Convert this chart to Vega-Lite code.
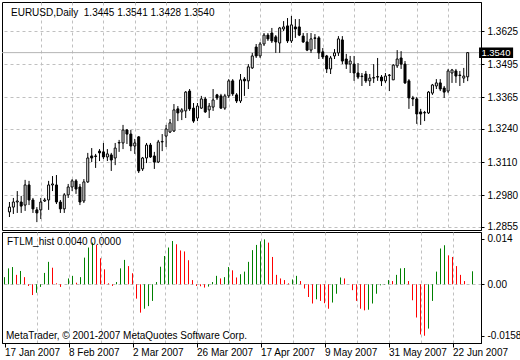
{
  "$schema": "https://vega.github.io/schema/vega-lite/v6.json",
  "background": "white",
  "padding": {"left": 1, "top": 1, "right": 0, "bottom": 0},
  "spacing": 2,
  "bounds": "flush",
  "config": {
    "view": {"stroke": "#000000", "strokeWidth": 1},
    "axis": {"labelFont": "Liberation Sans", "labelFontSize": 10, "labelColor": "#000000", "domainColor": "#000000", "tickColor": "#000000", "gridColor": "#c0c0c0", "gridDash": [3, 3], "gridWidth": 1, "domainWidth": 1, "tickWidth": 1, "labelOverlap": false, "tickCount": 40},
    "text": {"font": "Liberation Sans", "fontSize": 10, "color": "#000000"}
  },
  "datasets": {
    "bars": [
{"i":0,"d":"2007-01-17","o":1.2914,"h":1.2953,"l":1.2894,"c":1.2933,"v":0.0022,"t":"up"},
{"i":1,"d":"2007-01-18","o":1.2933,"h":1.2969,"l":1.2906,"c":1.2953,"v":0.0049,"t":"up"},
{"i":2,"d":"2007-01-19","o":1.2953,"h":1.2996,"l":1.2910,"c":1.2957,"v":0.0053,"t":"up"},
{"i":3,"d":"2007-01-22","o":1.2953,"h":1.2977,"l":1.2910,"c":1.2937,"v":0.0029,"t":"down"},
{"i":4,"d":"2007-01-23","o":1.2941,"h":1.3040,"l":1.2918,"c":1.3020,"v":0.0041,"t":"up"},
{"i":5,"d":"2007-01-24","o":1.3020,"h":1.3036,"l":1.2941,"c":1.2961,"v":0.0022,"t":"down"},
{"i":6,"d":"2007-01-25","o":1.2961,"h":1.2969,"l":1.2910,"c":1.2926,"v":-0.0005,"t":"down"},
{"i":7,"d":"2007-01-26","o":1.2922,"h":1.2933,"l":1.2874,"c":1.2910,"v":-0.0033,"t":"down"},
{"i":8,"d":"2007-01-29","o":1.2922,"h":1.2969,"l":1.2886,"c":1.2953,"v":-0.0026,"t":"up"},
{"i":9,"d":"2007-01-30","o":1.2957,"h":1.2969,"l":1.2953,"c":1.2961,"v":-0.0008,"t":"up"},
{"i":10,"d":"2007-01-31","o":1.2961,"h":1.3036,"l":1.2922,"c":1.3020,"v":0.0035,"t":"up"},
{"i":11,"d":"2007-02-01","o":1.3020,"h":1.3055,"l":1.2996,"c":1.3024,"v":0.0069,"t":"up"},
{"i":12,"d":"2007-02-02","o":1.3020,"h":1.3059,"l":1.2945,"c":1.2953,"v":0.0051,"t":"down"},
{"i":13,"d":"2007-02-05","o":1.2953,"h":1.2961,"l":1.2910,"c":1.2926,"v":0.0003,"t":"down"},
{"i":14,"d":"2007-02-06","o":1.2926,"h":1.2988,"l":1.2910,"c":1.2981,"v":-0.0008,"t":"down"},
{"i":15,"d":"2007-02-07","o":1.2981,"h":1.3024,"l":1.2969,"c":1.3012,"v":0.0000,"t":"up"},
{"i":16,"d":"2007-02-08","o":1.3012,"h":1.3043,"l":1.2996,"c":1.3036,"v":0.0018,"t":"up"},
{"i":17,"d":"2007-02-09","o":1.3036,"h":1.3043,"l":1.2985,"c":1.3004,"v":0.0026,"t":"up"},
{"i":18,"d":"2007-02-12","o":1.3012,"h":1.3024,"l":1.2941,"c":1.2953,"v":0.0005,"t":"down"},
{"i":19,"d":"2007-02-13","o":1.2957,"h":1.3043,"l":1.2949,"c":1.3032,"v":0.0022,"t":"up"},
{"i":20,"d":"2007-02-14","o":1.3032,"h":1.3146,"l":1.3028,"c":1.3126,"v":0.0082,"t":"up"},
{"i":21,"d":"2007-02-15","o":1.3134,"h":1.3165,"l":1.3110,"c":1.3126,"v":0.0113,"t":"up"},
{"i":22,"d":"2007-02-16","o":1.3134,"h":1.3142,"l":1.3087,"c":1.3132,"v":0.0128,"t":"up"},
{"i":23,"d":"2007-02-19","o":1.3153,"h":1.3161,"l":1.3114,"c":1.3146,"v":0.0121,"t":"down"},
{"i":24,"d":"2007-02-20","o":1.3150,"h":1.3185,"l":1.3122,"c":1.3130,"v":0.0080,"t":"down"},
{"i":25,"d":"2007-02-21","o":1.3130,"h":1.3161,"l":1.3114,"c":1.3142,"v":0.0046,"t":"down"},
{"i":26,"d":"2007-02-22","o":1.3138,"h":1.3146,"l":1.3075,"c":1.3118,"v":0.0003,"t":"down"},
{"i":27,"d":"2007-02-23","o":1.3126,"h":1.3185,"l":1.3098,"c":1.3165,"v":-0.0005,"t":"down"},
{"i":28,"d":"2007-02-26","o":1.3185,"h":1.3197,"l":1.3150,"c":1.3187,"v":0.0007,"t":"up"},
{"i":29,"d":"2007-02-27","o":1.3185,"h":1.3256,"l":1.3161,"c":1.3236,"v":0.0049,"t":"up"},
{"i":30,"d":"2007-02-28","o":1.3236,"h":1.3240,"l":1.3181,"c":1.3220,"v":0.0075,"t":"up"},
{"i":31,"d":"2007-03-01","o":1.3220,"h":1.3236,"l":1.3153,"c":1.3173,"v":0.0056,"t":"down"},
{"i":32,"d":"2007-03-02","o":1.3173,"h":1.3201,"l":1.3142,"c":1.3185,"v":0.0034,"t":"down"},
{"i":33,"d":"2007-03-05","o":1.3209,"h":1.3212,"l":1.3067,"c":1.3075,"v":-0.0044,"t":"down"},
{"i":34,"d":"2007-03-06","o":1.3083,"h":1.3130,"l":1.3075,"c":1.3126,"v":-0.0087,"t":"down"},
{"i":35,"d":"2007-03-07","o":1.3126,"h":1.3185,"l":1.3106,"c":1.3177,"v":-0.0075,"t":"up"},
{"i":36,"d":"2007-03-08","o":1.3177,"h":1.3185,"l":1.3126,"c":1.3130,"v":-0.0067,"t":"up"},
{"i":37,"d":"2007-03-09","o":1.3134,"h":1.3150,"l":1.3083,"c":1.3110,"v":-0.0051,"t":"up"},
{"i":38,"d":"2007-03-12","o":1.3110,"h":1.3197,"l":1.3106,"c":1.3189,"v":0.0007,"t":"up"},
{"i":39,"d":"2007-03-13","o":1.3189,"h":1.3220,"l":1.3153,"c":1.3191,"v":0.0054,"t":"up"},
{"i":40,"d":"2007-03-14","o":1.3212,"h":1.3256,"l":1.3169,"c":1.3240,"v":0.0087,"t":"up"},
{"i":41,"d":"2007-03-15","o":1.3228,"h":1.3279,"l":1.3224,"c":1.3264,"v":0.0113,"t":"up"},
{"i":42,"d":"2007-03-16","o":1.3232,"h":1.3338,"l":1.3228,"c":1.3315,"v":0.0133,"t":"up"},
{"i":43,"d":"2007-03-19","o":1.3319,"h":1.3330,"l":1.3271,"c":1.3303,"v":0.0123,"t":"down"},
{"i":44,"d":"2007-03-20","o":1.3307,"h":1.3322,"l":1.3275,"c":1.3315,"v":0.0104,"t":"down"},
{"i":45,"d":"2007-03-21","o":1.3311,"h":1.3389,"l":1.3283,"c":1.3385,"v":0.0101,"t":"down"},
{"i":46,"d":"2007-03-22","o":1.3389,"h":1.3397,"l":1.3311,"c":1.3319,"v":0.0074,"t":"down"},
{"i":47,"d":"2007-03-23","o":1.3322,"h":1.3342,"l":1.3264,"c":1.3271,"v":0.0013,"t":"down"},
{"i":48,"d":"2007-03-26","o":1.3283,"h":1.3342,"l":1.3271,"c":1.3330,"v":-0.0005,"t":"down"},
{"i":49,"d":"2007-03-27","o":1.3322,"h":1.3370,"l":1.3319,"c":1.3358,"v":-0.0006,"t":"down"},
{"i":50,"d":"2007-03-28","o":1.3358,"h":1.3366,"l":1.3303,"c":1.3307,"v":-0.0010,"t":"down"},
{"i":51,"d":"2007-03-29","o":1.3315,"h":1.3342,"l":1.3283,"c":1.3330,"v":-0.0007,"t":"up"},
{"i":52,"d":"2007-03-30","o":1.3326,"h":1.3397,"l":1.3311,"c":1.3354,"v":0.0007,"t":"up"},
{"i":53,"d":"2007-04-02","o":1.3374,"h":1.3378,"l":1.3354,"c":1.3362,"v":0.0026,"t":"up"},
{"i":54,"d":"2007-04-03","o":1.3370,"h":1.3378,"l":1.3319,"c":1.3322,"v":0.0018,"t":"down"},
{"i":55,"d":"2007-04-04","o":1.3322,"h":1.3378,"l":1.3315,"c":1.3370,"v":0.0022,"t":"up"},
{"i":56,"d":"2007-04-05","o":1.3370,"h":1.3436,"l":1.3362,"c":1.3429,"v":0.0053,"t":"up"},
{"i":57,"d":"2007-04-06","o":1.3429,"h":1.3436,"l":1.3370,"c":1.3378,"v":0.0043,"t":"down"},
{"i":58,"d":"2007-04-09","o":1.3374,"h":1.3381,"l":1.3342,"c":1.3350,"v":0.0021,"t":"down"},
{"i":59,"d":"2007-04-10","o":1.3350,"h":1.3456,"l":1.3342,"c":1.3433,"v":0.0031,"t":"up"},
{"i":60,"d":"2007-04-11","o":1.3436,"h":1.3444,"l":1.3370,"c":1.3429,"v":0.0039,"t":"up"},
{"i":61,"d":"2007-04-12","o":1.3429,"h":1.3495,"l":1.3397,"c":1.3484,"v":0.0069,"t":"up"},
{"i":62,"d":"2007-04-13","o":1.3480,"h":1.3539,"l":1.3476,"c":1.3527,"v":0.0105,"t":"up"},
{"i":63,"d":"2007-04-16","o":1.3562,"h":1.3574,"l":1.3519,"c":1.3527,"v":0.0121,"t":"up"},
{"i":64,"d":"2007-04-17","o":1.3527,"h":1.3582,"l":1.3519,"c":1.3574,"v":0.0132,"t":"up"},
{"i":65,"d":"2007-04-18","o":1.3574,"h":1.3617,"l":1.3566,"c":1.3609,"v":0.0138,"t":"up"},
{"i":66,"d":"2007-04-19","o":1.3609,"h":1.3617,"l":1.3586,"c":1.3594,"v":0.0128,"t":"down"},
{"i":67,"d":"2007-04-20","o":1.3617,"h":1.3637,"l":1.3578,"c":1.3586,"v":0.0084,"t":"down"},
{"i":68,"d":"2007-04-23","o":1.3602,"h":1.3609,"l":1.3539,"c":1.3582,"v":0.0029,"t":"down"},
{"i":69,"d":"2007-04-24","o":1.3578,"h":1.3641,"l":1.3539,"c":1.3637,"v":0.0018,"t":"down"},
{"i":70,"d":"2007-04-25","o":1.3633,"h":1.3664,"l":1.3625,"c":1.3641,"v":0.0013,"t":"down"},
{"i":71,"d":"2007-04-26","o":1.3645,"h":1.3676,"l":1.3578,"c":1.3586,"v":0.0003,"t":"down"},
{"i":72,"d":"2007-04-27","o":1.3586,"h":1.3684,"l":1.3578,"c":1.3649,"v":0.0015,"t":"up"},
{"i":73,"d":"2007-04-30","o":1.3641,"h":1.3672,"l":1.3598,"c":1.3633,"v":0.0026,"t":"up"},
{"i":74,"d":"2007-05-01","o":1.3641,"h":1.3672,"l":1.3605,"c":1.3609,"v":0.0010,"t":"down"},
{"i":75,"d":"2007-05-02","o":1.3605,"h":1.3617,"l":1.3578,"c":1.3582,"v":-0.0013,"t":"down"},
{"i":76,"d":"2007-05-03","o":1.3582,"h":1.3617,"l":1.3546,"c":1.3550,"v":-0.0039,"t":"down"},
{"i":77,"d":"2007-05-04","o":1.3550,"h":1.3617,"l":1.3539,"c":1.3594,"v":-0.0059,"t":"down"},
{"i":78,"d":"2007-05-07","o":1.3598,"h":1.3613,"l":1.3554,"c":1.3596,"v":-0.0046,"t":"up"},
{"i":79,"d":"2007-05-08","o":1.3598,"h":1.3605,"l":1.3515,"c":1.3539,"v":-0.0051,"t":"down"},
{"i":80,"d":"2007-05-09","o":1.3543,"h":1.3558,"l":1.3515,"c":1.3523,"v":-0.0058,"t":"down"},
{"i":81,"d":"2007-05-10","o":1.3527,"h":1.3531,"l":1.3460,"c":1.3476,"v":-0.0075,"t":"down"},
{"i":82,"d":"2007-05-11","o":1.3476,"h":1.3527,"l":1.3456,"c":1.3519,"v":-0.0056,"t":"up"},
{"i":83,"d":"2007-05-14","o":1.3527,"h":1.3554,"l":1.3515,"c":1.3539,"v":-0.0029,"t":"up"},
{"i":84,"d":"2007-05-15","o":1.3539,"h":1.3605,"l":1.3527,"c":1.3594,"v":0.0021,"t":"up"},
{"i":85,"d":"2007-05-16","o":1.3590,"h":1.3605,"l":1.3495,"c":1.3507,"v":0.0018,"t":"down"},
{"i":86,"d":"2007-05-17","o":1.3515,"h":1.3535,"l":1.3476,"c":1.3495,"v":0.0000,"t":"down"},
{"i":87,"d":"2007-05-18","o":1.3495,"h":1.3527,"l":1.3460,"c":1.3507,"v":-0.0018,"t":"down"},
{"i":88,"d":"2007-05-21","o":1.3495,"h":1.3527,"l":1.3429,"c":1.3460,"v":-0.0051,"t":"down"},
{"i":89,"d":"2007-05-22","o":1.3460,"h":1.3499,"l":1.3436,"c":1.3444,"v":-0.0075,"t":"down"},
{"i":90,"d":"2007-05-23","o":1.3448,"h":1.3460,"l":1.3409,"c":1.3446,"v":-0.0080,"t":"down"},
{"i":91,"d":"2007-05-24","o":1.3456,"h":1.3468,"l":1.3421,"c":1.3429,"v":-0.0078,"t":"up"},
{"i":92,"d":"2007-05-25","o":1.3429,"h":1.3456,"l":1.3409,"c":1.3440,"v":-0.0059,"t":"up"},
{"i":93,"d":"2007-05-28","o":1.3440,"h":1.3495,"l":1.3421,"c":1.3442,"v":-0.0029,"t":"up"},
{"i":94,"d":"2007-05-29","o":1.3446,"h":1.3519,"l":1.3429,"c":1.3444,"v":-0.0003,"t":"up"},
{"i":95,"d":"2007-05-30","o":1.3444,"h":1.3452,"l":1.3409,"c":1.3429,"v":-0.0001,"t":"up"},
{"i":96,"d":"2007-05-31","o":1.3429,"h":1.3460,"l":1.3421,"c":1.3448,"v":0.0013,"t":"up"},
{"i":97,"d":"2007-06-01","o":1.3450,"h":1.3456,"l":1.3389,"c":1.3452,"v":0.0010,"t":"down"},
{"i":98,"d":"2007-06-04","o":1.3433,"h":1.3495,"l":1.3433,"c":1.3491,"v":0.0029,"t":"up"},
{"i":99,"d":"2007-06-05","o":1.3488,"h":1.3550,"l":1.3480,"c":1.3515,"v":0.0049,"t":"up"},
{"i":100,"d":"2007-06-06","o":1.3519,"h":1.3546,"l":1.3476,"c":1.3495,"v":0.0050,"t":"up"},
{"i":101,"d":"2007-06-07","o":1.3495,"h":1.3507,"l":1.3417,"c":1.3421,"v":0.0010,"t":"down"},
{"i":102,"d":"2007-06-08","o":1.3429,"h":1.3436,"l":1.3319,"c":1.3362,"v":-0.0049,"t":"down"},
{"i":103,"d":"2007-06-11","o":1.3362,"h":1.3370,"l":1.3330,"c":1.3358,"v":-0.0102,"t":"down"},
{"i":104,"d":"2007-06-12","o":1.3358,"h":1.3366,"l":1.3260,"c":1.3299,"v":-0.0154,"t":"down"},
{"i":105,"d":"2007-06-13","o":1.3307,"h":1.3319,"l":1.3256,"c":1.3299,"v":-0.0158,"t":"down"},
{"i":106,"d":"2007-06-14","o":1.3303,"h":1.3311,"l":1.3271,"c":1.3305,"v":-0.0136,"t":"up"},
{"i":107,"d":"2007-06-15","o":1.3303,"h":1.3389,"l":1.3299,"c":1.3385,"v":-0.0051,"t":"up"},
{"i":108,"d":"2007-06-18","o":1.3381,"h":1.3417,"l":1.3374,"c":1.3413,"v":0.0039,"t":"up"},
{"i":109,"d":"2007-06-19","o":1.3409,"h":1.3436,"l":1.3397,"c":1.3421,"v":0.0110,"t":"up"},
{"i":110,"d":"2007-06-20","o":1.3421,"h":1.3436,"l":1.3389,"c":1.3397,"v":0.0120,"t":"up"},
{"i":111,"d":"2007-06-21","o":1.3401,"h":1.3409,"l":1.3362,"c":1.3385,"v":0.0089,"t":"down"},
{"i":112,"d":"2007-06-22","o":1.3389,"h":1.3476,"l":1.3381,"c":1.3468,"v":0.0084,"t":"down"},
{"i":113,"d":"2007-06-25","o":1.3460,"h":1.3476,"l":1.3421,"c":1.3472,"v":0.0056,"t":"down"},
{"i":114,"d":"2007-06-26","o":1.3468,"h":1.3476,"l":1.3421,"c":1.3448,"v":0.0029,"t":"down"},
{"i":115,"d":"2007-06-27","o":1.3452,"h":1.3468,"l":1.3409,"c":1.3450,"v":0.0010,"t":"down"},
{"i":116,"d":"2007-06-28","o":1.3440,"h":1.3480,"l":1.3421,"c":1.3448,"v":0.0000,"t":"down"},
{"i":117,"d":"2007-06-29","o":1.3445,"h":1.3541,"l":1.3428,"c":1.3540,"v":0.0040,"t":"up"}
    ]
  },
  "vconcat": [
    {
      "width": 479,
      "height": 228,
      "data": {"name": "bars"},
      "layer": [
        {
          "data": {"values": [{"price": 1.354}]},
          "mark": {"type": "rule", "color": "#b4b4b4", "strokeWidth": 1},
          "encoding": {
            "y": {"field": "price", "type": "quantitative", "scale": {"domain": [1.2843, 1.3739], "nice": false, "zero": false}}
          }
        },
        {
          "mark": {"type": "rule", "color": "#000000", "strokeWidth": 1},
          "encoding": {
            "x": {"field": "i", "type": "quantitative", "scale": {"domain": [-0.625, 119.125], "nice": false, "zero": false},
                  "axis": {"title": null, "values": [8, 16, 24, 32, 40, 48, 56, 64, 72, 80, 88, 96, 104, 112], "tickCount": 40, "labels": false, "ticks": false, "domain": false, "grid": true}},
            "y": {"field": "l", "type": "quantitative", "scale": {"domain": [1.2843, 1.3739], "nice": false, "zero": false},
                  "axis": {"title": null, "orient": "right", "values": [1.2855, 1.298, 1.311, 1.324, 1.3365, 1.3495, 1.3625], "tickCount": 40, "format": ".4f", "grid": true, "tickSize": 3, "labelPadding": 3, "domain": true, "labelOverlap": false}},
            "y2": {"field": "h"}
          }
        },
        {
          "mark": {"type": "bar", "size": 2, "stroke": "#000000", "strokeWidth": 1},
          "encoding": {
            "x": {"field": "i", "type": "quantitative", "scale": {"domain": [-0.625, 119.125], "nice": false, "zero": false}},
            "y": {"field": "o", "type": "quantitative", "scale": {"domain": [1.2843, 1.3739], "nice": false, "zero": false}},
            "y2": {"field": "c"},
            "fill": {"condition": {"test": "datum.c >= datum.o", "value": "#ffffff"}, "value": "#000000"}
          }
        },
        {
          "data": {"values": [{"label": "EURUSD,Daily\u00a0 1.3445 1.3541 1.3428 1.3540"}]},
          "mark": {"type": "text", "align": "left", "baseline": "middle", "dx": 4},
          "encoding": {
            "x": {"datum": -0.625, "type": "quantitative", "scale": {"domain": [-0.625, 119.125], "nice": false, "zero": false}},
            "y": {"datum": 1.3696, "type": "quantitative", "scale": {"domain": [1.2843, 1.3739], "nice": false, "zero": false}},
            "text": {"field": "label", "type": "nominal"}
          }
        },
        {
          "data": {"values": [{"price": 1.354}]},
          "mark": {"type": "rect", "color": "#000000"},
          "encoding": {
            "x": {"datum": 119.9, "type": "quantitative", "scale": {"domain": [-0.625, 119.125], "nice": false, "zero": false}},
            "x2": {"datum": 128.6},
            "y": {"datum": 1.356, "type": "quantitative", "scale": {"domain": [1.2843, 1.3739], "nice": false, "zero": false}},
            "y2": {"datum": 1.3519}
          }
        },
        {
          "data": {"values": [{"price": 1.354}]},
          "mark": {"type": "text", "align": "left", "baseline": "middle", "color": "#ffffff", "fontSize": 9.5},
          "encoding": {
            "x": {"datum": 120.5, "type": "quantitative", "scale": {"domain": [-0.625, 119.125], "nice": false, "zero": false}},
            "y": {"field": "price", "type": "quantitative", "scale": {"domain": [1.2843, 1.3739], "nice": false, "zero": false}},
            "text": {"field": "price", "type": "quantitative", "format": ".4f"}
          }
        }
      ]
    },
    {
      "width": 479,
      "height": 111,
      "data": {"name": "bars"},
      "layer": [
        {
          "mark": {"type": "rule", "strokeWidth": 1},
          "encoding": {
            "x": {"field": "i", "type": "quantitative", "scale": {"domain": [-0.625, 119.125], "nice": false, "zero": false},
                  "axis": {"title": null, "values": [0, 8, 16, 24, 32, 40, 48, 56, 64, 72, 80, 88, 96, 104, 112], "tickCount": 40, "grid": true,
                           "gridOpacity": {"condition": {"test": "datum.value === 0", "value": 0}, "value": 1},
                           "tickOpacity": {"condition": {"test": "datum.value % 16 === 0", "value": 1}, "value": 0},
                           "tickSize": 4, "labelPadding": 0, "labelAlign": "left", "labelBaseline": "top", "labelOffset": 0, "labelFlush": false, "labelOverlap": false,
                           "labelExpr": "datum.value % 16 === 0 ? ['17 Jan 2007','8 Feb 2007','2 Mar 2007','26 Mar 2007','17 Apr 2007','9 May 2007','31 May 2007','22 Jun 2007'][datum.value / 16] : ''"}},
            "y": {"field": "v", "type": "quantitative", "scale": {"domain": [-0.01803, 0.01607], "nice": false, "zero": false},
                  "axis": {"title": null, "orient": "right", "values": [-0.0158, 0, 0.014], "tickCount": 40, "grid": true,
                           "gridOpacity": {"condition": {"test": "datum.value === 0", "value": 1}, "value": 0},
                           "tickSize": 3, "labelPadding": 3, "labelOverlap": false,
                           "labelExpr": "datum.value === 0 ? '0.00' : toString(datum.value)"}},
            "y2": {"datum": 0},
            "color": {"field": "t", "type": "nominal", "scale": {"domain": ["up", "down"], "range": ["#008000", "#ff0000"]}, "legend": null}
          }
        },
        {
          "data": {"values": [{"label": "FTLM_hist 0.0040 0.0000"}]},
          "mark": {"type": "text", "align": "left", "baseline": "middle", "dx": 5},
          "encoding": {
            "x": {"datum": -0.625, "type": "quantitative", "scale": {"domain": [-0.625, 119.125], "nice": false, "zero": false}},
            "y": {"datum": 0.01315, "type": "quantitative", "scale": {"domain": [-0.01803, 0.01607], "nice": false, "zero": false}},
            "text": {"field": "label", "type": "nominal"}
          }
        },
        {
          "data": {"values": [{"label": "MetaTrader, © 2001-2007 MetaQuotes Software Corp."}]},
          "mark": {"type": "text", "align": "left", "baseline": "middle", "dx": 4},
          "encoding": {
            "x": {"datum": -0.625, "type": "quantitative", "scale": {"domain": [-0.625, 119.125], "nice": false, "zero": false}},
            "y": {"datum": -0.01588, "type": "quantitative", "scale": {"domain": [-0.01803, 0.01607], "nice": false, "zero": false}},
            "text": {"field": "label", "type": "nominal"}
          }
        }
      ]
    }
  ]
}
